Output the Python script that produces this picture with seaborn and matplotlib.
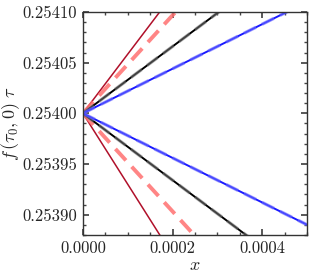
import matplotlib
matplotlib.use('Agg')
import matplotlib.pyplot as plt
import seaborn as sns
import pandas as pd
import numpy as np
from matplotlib.ticker import MultipleLocator, FormatStrFormatter

# ── Data: straight lines from (0, 0.254) to x = 0.0005 ──
x_ends = [0.0, 0.0005]
red_up      = [0.25400, 0.254292]
red_down    = [0.25400, 0.253650]
pink_up     = [0.25400, 0.254242]
pink_down   = [0.25400, 0.253758]
black_up    = [0.25400, 0.254165]
black_down  = [0.25400, 0.253835]
blue_up     = [0.25400, 0.254110]
blue_down   = [0.25400, 0.253890]

sns.set_theme(style='ticks')
plt.rcParams['font.family'] = 'serif'
plt.rcParams['font.serif'] = ['cmr10', 'DejaVu Serif']
plt.rcParams['mathtext.fontset'] = 'cm'
plt.rcParams['axes.unicode_minus'] = False

fig = plt.figure(figsize=(3.14, 2.79), dpi=100)
ax = fig.add_axes([0.264, 0.158, 0.714, 0.799])

def line(y, **kw):
    df = pd.DataFrame({'x': x_ends, 'y': y})
    sns.lineplot(data=df, x='x', y='y', ax=ax, **kw)

# red solid
for y in (red_up, red_down):
    line(y, color='#b0102a', linewidth=1.1)
# pink dashed
for y in (pink_up, pink_down):
    line(y, color='#ff7070', linewidth=2.8, alpha=0.85, dashes=(4, 2.2))
# black solid + gray dashed
for y in (black_up, black_down):
    line(y, color='black', linewidth=1.4)
    line(y, color='#777777', linewidth=2.4, alpha=0.55, dashes=(4, 2))
# blue solid + light blue dashed
for y in (blue_up, blue_down):
    line(y, color='#1a1aff', linewidth=1.4)
    line(y, color='#6a6aff', linewidth=2.4, alpha=0.6, dashes=(4, 2))

ax.set_xlim(0, 0.0005)
ax.set_ylim(0.25388, 0.25410)
ax.xaxis.set_major_locator(MultipleLocator(0.0002))
ax.xaxis.set_minor_locator(MultipleLocator(0.00005))
ax.yaxis.set_major_locator(MultipleLocator(0.00005))
ax.yaxis.set_minor_locator(MultipleLocator(0.00001))
ax.xaxis.set_major_formatter(FormatStrFormatter('%.4f'))
ax.yaxis.set_major_formatter(FormatStrFormatter('%.5f'))
ax.tick_params(which='both', direction='in', top=True, right=True,
               color='#444444', labelsize=12, pad=4)
ax.tick_params(which='major', length=4)
ax.tick_params(which='minor', length=2)
for s in ax.spines.values():
    s.set_color('#333333')
    s.set_linewidth(1.0)

ax.set_xlabel(r'$x$', fontsize=13)
ax.set_ylabel(r'$f\,(\tau_0, 0)\ \tau$', fontsize=13)
ax.xaxis.set_label_coords(0.5, -0.10)
ax.yaxis.set_label_coords(-0.27, 0.5)

plt.savefig('out.png', dpi=100)
